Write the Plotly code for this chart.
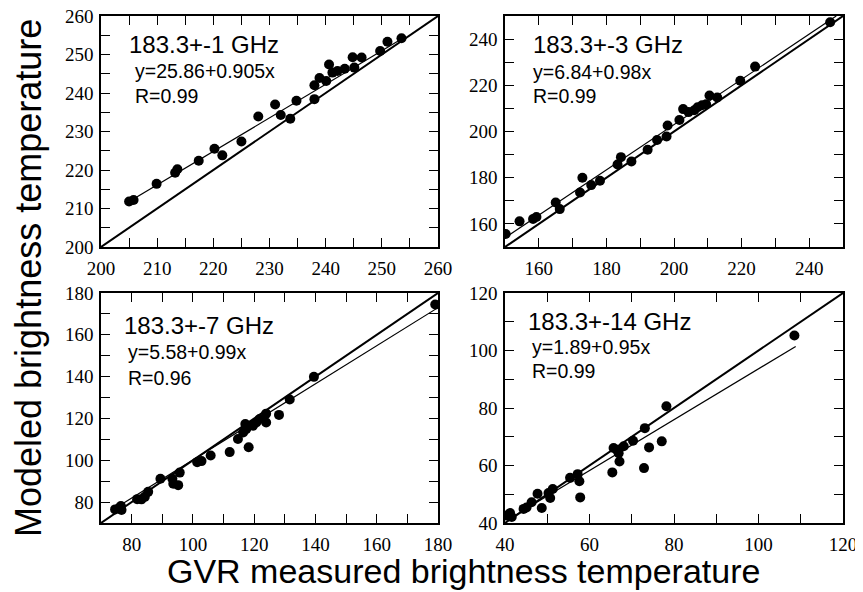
import plotly.graph_objects as go

# ---------------- data ----------------
titles = ["183.3+-1 GHz", "183.3+-3 GHz", "183.3+-7 GHz", "183.3+-14 GHz"]
equations = ["y=25.86+0.905x", "y=6.84+0.98x", "y=5.58+0.99x", "y=1.89+0.95x"]
r_labels = ["R=0.99", "R=0.99", "R=0.96", "R=0.99"]

p1_x = [205.0, 205.8, 209.9, 213.2, 213.6, 217.4, 220.2, 221.6, 225.0, 228.0, 231.0, 232.0, 233.7, 234.8,
        238.0, 238.0, 238.9, 240.1, 240.6, 241.2, 242.1, 243.4, 244.8, 245.1, 246.4, 249.7, 251.0, 253.5]
p1_y = [211.8, 212.2, 216.4, 219.3, 220.2, 222.4, 225.5, 223.8, 227.4, 233.9, 237.0, 234.3, 233.3, 238.0,
        238.4, 242.0, 243.9, 243.1, 247.4, 245.3, 245.7, 246.3, 249.3, 246.6, 249.2, 250.9, 253.3, 254.2]

p2_x = [150.2, 154.3, 158.3, 159.3, 165.0, 166.2, 172.2, 172.9, 175.5, 178.1, 183.3, 184.3, 187.4, 192.2,
        195.0, 197.8, 198.1, 201.6, 202.7, 204.3, 206.0, 207.0, 208.3, 209.5, 210.5, 212.8, 219.6, 224.0, 246.2]
p2_y = [155.6, 161.1, 162.1, 163.0, 169.3, 166.4, 173.6, 180.0, 176.8, 178.7, 185.7, 188.9, 187.0, 192.1,
        196.3, 197.8, 202.6, 205.0, 209.7, 208.4, 209.2, 210.5, 211.4, 211.8, 215.6, 214.7, 222.0, 228.1, 247.3]

p3_x = [74.6, 76.0, 76.5, 76.7, 81.8, 83.2, 84.3, 85.4, 89.4, 93.3, 93.6, 95.2, 95.7, 101.4, 102.8, 105.8,
        112.0, 114.7, 116.4, 117.1, 117.4, 118.2, 119.6, 120.7, 121.8, 123.9, 123.9, 128.1, 131.6, 139.5, 179.1]
p3_y = [76.5, 77.3, 78.1, 76.2, 81.4, 81.3, 82.5, 84.9, 91.2, 91.2, 88.8, 88.1, 94.1, 99.1, 99.6, 102.3,
        103.9, 110.2, 113.3, 117.3, 114.9, 106.2, 116.5, 118.1, 119.7, 118.1, 122.3, 121.7, 129.1, 139.9, 174.5]

p4_x = [40.4, 41.2, 41.6, 44.4, 45.1, 46.3, 47.7, 48.7, 50.7, 50.3, 51.3, 55.4, 57.2, 57.6, 57.8, 65.4,
        65.7, 66.5, 66.9, 67.1, 68.1, 70.3, 72.9, 73.1, 74.1, 77.1, 78.2, 108.5]
p4_y = [42.6, 43.5, 42.1, 44.9, 45.4, 47.2, 50.2, 45.2, 48.7, 50.4, 51.8, 55.7, 57.0, 54.5, 48.9, 57.6,
        66.1, 65.5, 64.3, 61.4, 66.7, 68.6, 59.1, 73.0, 66.3, 68.4, 80.6, 105.2]

# regression line end points as drawn in the picture
fit1_x = [204.8, 253.5]; fit1_y = [211.6, 254.0]
fit2_x = [150.0, 248.0]; fit2_y = [154.0, 250.0]
fit3_x = [74.0, 180.0];  fit3_y = [76.5, 173.0]
fit4_x = [40.5, 108.8];  fit4_y = [41.0, 101.4]

ranges = [[200, 260], [150, 250], [70, 180], [40, 120]]
major = [10, 20, 20, 20]
minor = [5, 10, 10, 10]

xs = [p1_x, p2_x, p3_x, p4_x]
ys = [p1_y, p2_y, p3_y, p4_y]
fxs = [fit1_x, fit2_x, fit3_x, fit4_x]
fys = [fit1_y, fit2_y, fit3_y, fit4_y]

SERIF = "Liberation Serif"
SANS = "Liberation Sans"

# ---------------- layout geometry ----------------
# the page body adds an 8px offset; size the figure so it fits the 863x592 window
OFF = 8
W, H = 863 - OFF, 592 - OFF


def px_x(px):
    return (px - OFF) / W


def px_y(py):
    return 1 - (py - OFF) / H


dom_x = [[px_x(101), px_x(438)], [px_x(505), px_x(843)], [px_x(101), px_x(438)], [px_x(505), px_x(843)]]
dom_y = [[px_y(247), px_y(16)], [px_y(247), px_y(16)], [px_y(523), px_y(293)], [px_y(523), px_y(293)]]

fig = go.Figure()
layout = dict(
    template="none",
    width=W, height=H, margin=dict(l=0, r=0, t=0, b=0, pad=0, autoexpand=False),
    paper_bgcolor="white", plot_bgcolor="white", showlegend=False,
    font=dict(family=SERIF, color="black"),
)

for i in range(4):
    sfx = "" if i == 0 else str(i + 1)
    xa, ya = "x" + sfx, "y" + sfx
    lo, hi = ranges[i]
    # 1:1 line
    fig.add_trace(go.Scatter(x=[lo, hi], y=[lo, hi], mode="lines",
                             line=dict(color="black", width=2), xaxis=xa, yaxis=ya, hoverinfo="skip"))
    # regression line
    fig.add_trace(go.Scatter(x=fxs[i], y=fys[i], mode="lines",
                             line=dict(color="black", width=1.2), xaxis=xa, yaxis=ya, hoverinfo="skip"))
    # points
    fig.add_trace(go.Scatter(x=xs[i], y=ys[i], mode="markers",
                             marker=dict(color="black", size=10, line=dict(width=0)), xaxis=xa, yaxis=ya))
    common = dict(
        automargin=False, ticklabeloverflow="allow",
        showline=True, linecolor="black", linewidth=1.5, mirror="ticks",
        ticks="inside", ticklen=9, tickwidth=1.2, tickcolor="black",
        showgrid=False, zeroline=False,
        tickfont=dict(family=SERIF, size=19, color="black"),
        dtick=major[i], tick0=0, range=[lo, hi],
        minor=dict(dtick=minor[i], tick0=0, ticks="inside", ticklen=9, tickwidth=1.2,
                   tickcolor="black", showgrid=False),
    )
    layout["xaxis" + sfx] = dict(common, domain=dom_x[i], anchor=ya, ticklabelstandoff=3)
    layout["yaxis" + sfx] = dict(common, domain=dom_y[i], anchor=xa, ticklabelstandoff=2)

fig.update_layout(**layout)

# panel texts (reference pixel positions)
title_pos = [(128, 45), (532, 45), (123, 325), (527, 321)]
eq_pos = [(134, 71), (532, 72), (127, 352), (531, 347)]
r_pos = [(134, 96), (532, 96), (127, 378), (531, 371)]


def ann(text, px, py, size):
    fig.add_annotation(text=text, x=px_x(px), y=px_y(py), xref="paper", yref="paper",
                       xanchor="left", yanchor="middle", showarrow=False, borderpad=0,
                       font=dict(family=SANS, size=size, color="black"))


for i in range(4):
    ann(titles[i], *title_pos[i], 24)
    ann(equations[i], *eq_pos[i], 19.5)
    ann(r_labels[i], *r_pos[i], 19.5)

fig.add_annotation(text="Modeled brightness temperature", x=px_x(28), y=px_y(278),
                   xref="paper", yref="paper", textangle=-90, showarrow=False,
                   xanchor="center", yanchor="middle",
                   font=dict(family=SANS, size=36, color="black"))
fig.add_annotation(text="GVR measured brightness temperature", x=px_x(463), y=px_y(571),
                   xref="paper", yref="paper", showarrow=False,
                   xanchor="center", yanchor="middle",
                   font=dict(family=SANS, size=34, color="black"))

fig.write_html("out.html")
